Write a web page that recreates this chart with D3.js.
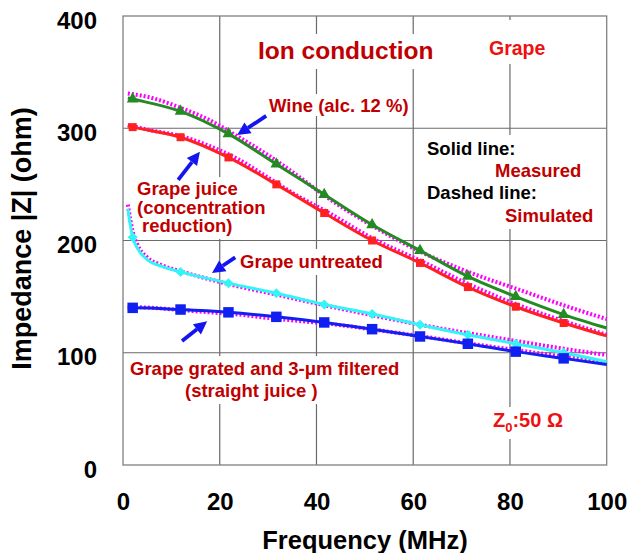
<!DOCTYPE html>
<html>
<head>
<meta charset="utf-8">
<script src="https://cdn.jsdelivr.net/npm/d3@7"></script>
<style>
  html, body { margin: 0; padding: 0; background: #fff; }
  svg { display: block; font-family: "Liberation Sans", Arial, Helvetica, sans-serif; font-weight: bold; }
</style>
</head>
<body>
<svg id="chart" width="629" height="553"></svg>
<script>
// ---- Axis ticks ----
const xTicks = [0, 20, 40, 60, 80, 100];
const yTicks = [0, 100, 200, 300, 400];

// ---- Frequencies (MHz) ----
const markerFreq = [2, 11.9, 21.8, 31.7, 41.6, 51.5, 61.4, 71.3, 81.2, 91.1];
const lineFreq = [1, 2, 11.9, 21.8, 31.7, 41.6, 51.5, 61.4, 71.3, 81.2, 91.1, 100];
const untreatedFreq = [1, 1.5, 2, 3, 5, 8, 11.9, 21.8, 31.7, 41.6, 51.5, 61.4, 71.3, 81.2, 91.1, 100];
const simFreq = [1, 6, 12, 18, 24, 30, 36, 42, 52, 62, 72, 82, 92, 100];
const untreatedSimFreq = [1, 1.5, 2, 3, 5, 8, 12, 22, 32, 42, 52, 62, 72, 82, 92, 100];

// ---- Measured impedance |Z| (ohm) ----
const wineMeasured = [327, 326, 315, 295, 268, 241, 214, 191, 168, 150, 134, 122];
const juiceMeasured = [302, 301, 292, 274, 250, 224.5, 200, 180, 158.5, 141, 126.5, 115];
const untreatedMeasured = [228, 214, 203, 193, 183, 177, 172, 162, 153, 143, 134.5, 125, 116, 108, 100, 92];
const gratedMeasured = [140, 140, 138.5, 136, 132, 127, 121, 114.5, 108, 101, 95, 89.5];

// ---- Simulated impedance |Z| (ohm) ----
const wineSimulated = [331, 327, 318, 307, 292, 276, 258, 239, 212, 189, 171, 156, 141, 130];
const juiceSimulated = [303, 298, 293, 284, 272, 256, 240, 226, 201, 181, 160, 142, 127, 116];
const untreatedSimulated = [232, 219, 208, 196, 185, 178, 172.5, 161, 151.5, 142, 133, 124.5, 117, 110, 103, 98];
const gratedSimulated = [141, 140, 138, 136, 134, 131, 128.5, 126, 120.5, 114.5, 108, 102, 96, 91];

// ---- Annotation arrows: [tail freq, tail Z, head freq, head Z] ----
const arrowWine = [29.6, 311, 23.6, 294];
const arrowJuice = [11.4, 254, 15.9, 279];
const arrowUntreated = [23.2, 185, 18.4, 171];
const arrowGrated = [12.2, 110.5, 17.4, 128];

const svg = d3.select("#chart");
const x = d3.scaleLinear().domain([0, 100]).range([123, 606.7]);
const y = d3.scaleLinear().domain([0, 400]).range([465, 16]);

const gridLayer = svg.append("g");
const bgLayer = svg.append("g");
const simLayer = svg.append("g");
const measLayer = svg.append("g");
const arrowLayer = svg.append("g");
const textLayer = svg.append("g");

// ---- Grid and frame ----
gridLayer.selectAll("line.vx").data(xTicks.slice(1, -1)).join("line")
  .attr("x1", d => x(d)).attr("x2", d => x(d))
  .attr("y1", y(400)).attr("y2", y(0))
  .attr("stroke", "#6a6a6a").attr("stroke-width", 1.2);
gridLayer.selectAll("line.hy").data(yTicks.slice(1, -1)).join("line")
  .attr("x1", x(0)).attr("x2", x(100))
  .attr("y1", d => y(d)).attr("y2", d => y(d))
  .attr("stroke", "#6a6a6a").attr("stroke-width", 1.2);
gridLayer.append("rect")
  .attr("x", x(0)).attr("y", y(400))
  .attr("width", x(100) - x(0)).attr("height", y(0) - y(400))
  .attr("fill", "none").attr("stroke", "#808080").attr("stroke-width", 1.3);

// ---- Axes ----
const xAxis = svg.append("g").attr("transform", `translate(0,${y(0)})`)
  .call(d3.axisBottom(x).tickValues(xTicks).tickSize(0).tickPadding(28).tickFormat(d3.format("d")));
const yAxis = svg.append("g").attr("transform", `translate(${x(0)},0)`)
  .call(d3.axisLeft(y).tickValues(yTicks).tickSize(0).tickPadding(26).tickFormat(d3.format("d")));
[xAxis, yAxis].forEach(a => {
  a.select(".domain").remove();
  a.selectAll("text")
    .attr("font-family", "\"Liberation Sans\", Arial, sans-serif")
    .attr("font-weight", "bold").attr("font-size", 24).attr("fill", "#000");
});
yAxis.selectAll("text").attr("dy", "0.5em");

svg.append("text")
  .attr("x", 365).attr("y", 549).attr("text-anchor", "middle")
  .attr("font-size", 25.5).attr("fill", "#000")
  .text("Frequency (MHz)");
svg.append("text")
  .attr("transform", "translate(31,238.5) rotate(-90)").attr("text-anchor", "middle")
  .attr("font-size", 27).attr("fill", "#000")
  .text("Impedance |Z| (ohm)");

// ---- Series ----
const series = [
  { freq: lineFreq, meas: wineMeasured, simFreq: simFreq, sim: wineSimulated, color: "#228B22", symbol: d3.symbolTriangle, size: 60, rot: 0 },
  { freq: lineFreq, meas: juiceMeasured, simFreq: simFreq, sim: juiceSimulated, color: "#FF2020", symbol: d3.symbolSquare, size: 64, rot: 0 },
  { freq: untreatedFreq, meas: untreatedMeasured, simFreq: untreatedSimFreq, sim: untreatedSimulated, color: "#33F5F5", symbol: d3.symbolSquare, size: 50, rot: 45 },
  { freq: lineFreq, meas: gratedMeasured, simFreq: simFreq, sim: gratedSimulated, color: "#1020F0", symbol: d3.symbolSquare, size: 110, rot: 0 }
];

const line = d3.line().x(d => x(d[0])).y(d => y(d[1])).curve(d3.curveMonotoneX);

series.forEach(s => {
  simLayer.append("path")
    .datum(s.simFreq.map((f, i) => [f, s.sim[i]]))
    .attr("d", line).attr("fill", "none")
    .attr("stroke", "#FF00FF").attr("stroke-width", 4)
    .attr("stroke-dasharray", "2 2");
});
series.forEach(s => {
  const pts = s.freq.map((f, i) => [f, s.meas[i]]);
  measLayer.append("path")
    .datum(pts).attr("d", line).attr("fill", "none")
    .attr("stroke", s.color).attr("stroke-width", 3).attr("stroke-linejoin", "round");
  const marks = pts.filter(p => markerFreq.includes(p[0]));
  measLayer.selectAll(null).data(marks).join("path")
    .attr("d", d3.symbol().type(s.symbol).size(s.size))
    .attr("transform", d => `translate(${x(d[0])},${y(d[1])}) rotate(${s.rot})`)
    .attr("fill", s.color);
});

// ---- Arrows ----
function arrow(a) {
  const x0 = x(a[0]), y0 = y(a[1]), x1 = x(a[2]), y1 = y(a[3]);
  const ang = Math.atan2(y1 - y0, x1 - x0);
  const headLen = 13, headHalf = 6.5;
  const bx = x1 - headLen * Math.cos(ang), by = y1 - headLen * Math.sin(ang);
  arrowLayer.append("line")
    .attr("x1", x0).attr("y1", y0).attr("x2", bx).attr("y2", by)
    .attr("stroke", "#1414F0").attr("stroke-width", 3.8);
  const px = -Math.sin(ang) * headHalf, py = Math.cos(ang) * headHalf;
  arrowLayer.append("path")
    .attr("d", `M${x1},${y1}L${bx + px},${by + py}L${bx - px},${by - py}Z`)
    .attr("fill", "#1414F0");
}
[arrowWine, arrowJuice, arrowUntreated, arrowGrated].forEach(arrow);

// ---- Text labels with white backing (one text element per label, lines as tspans) ----
const darkRed = "#C00000";
const brightRed = "#EE1111";
function label(lines, size, pad) {
  const t = textLayer.append("text").attr("font-size", size);
  lines.forEach(l => {
    if (l.parts) {
      l.parts.forEach((p, i) => {
        const ts = t.append("tspan").text(p.text).attr("fill", l.color || darkRed);
        if (i === 0) ts.attr("x", l.x).attr("y", l.y);
        if (p.size) ts.attr("font-size", p.size);
        if (p.dy) ts.attr("dy", p.dy);
      });
    } else {
      t.append("tspan").attr("x", l.x).attr("y", l.y)
        .attr("fill", l.color || darkRed).text(l.text);
    }
  });
  const b = t.node().getBBox();
  const p = Object.assign({ t: 2, r: 2, b: 2, l: 2 }, pad || {});
  bgLayer.append("rect")
    .attr("x", b.x - p.l).attr("y", b.y - p.t)
    .attr("width", b.width + p.l + p.r).attr("height", b.height + p.t + p.b)
    .attr("fill", "#fff");
}

label([{ x: 258, y: 59, text: "Ion conduction" }], 24.5, { t: 3, b: 5 });
label([{ x: 489, y: 55, text: "Grape", color: brightRed }], 19.5, { t: 17, b: 5 });
label([{ x: 269, y: 112, text: "Wine (alc. 12 %)" }], 18.5, { t: 1, b: 0 });
label([
  { x: 427, y: 155, text: "Solid line:", color: "#000" },
  { x: 495, y: 177, text: "Measured" },
  { x: 427, y: 199, text: "Dashed line:", color: "#000" },
  { x: 505, y: 222, text: "Simulated" }
], 18.5, { t: 3, b: 3 });
label([
  { x: 137, y: 195, text: "Grape juice" },
  { x: 137, y: 213.5, text: "(concentration" },
  { x: 142, y: 232, text: "reduction)" }
], 18.5, { t: 1, b: 3 });
label([{ x: 240, y: 268, text: "Grape untreated" }], 18.5, { t: 2, b: 3 });
label([
  { x: 130, y: 375, text: "Grape grated and 3-\u03bcm filtered" },
  { x: 185, y: 397, text: "(straight juice )" }
], 18.5, { t: 2, b: 3 });
label([{
  x: 493, y: 427, color: brightRed,
  parts: [{ text: "Z" }, { text: "0", size: 13, dy: 5 }, { text: ":50 \u03a9", dy: -5 }]
}], 20, { t: 2, b: 4 });
</script>
</body>
</html>
